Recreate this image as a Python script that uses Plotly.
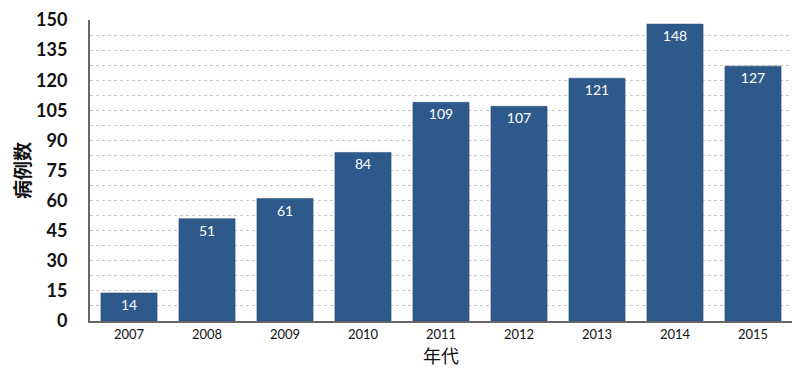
import plotly.graph_objects as go

years = ["2007", "2008", "2009", "2010", "2011", "2012", "2013", "2014", "2015"]
cases = [14, 51, 61, 84, 109, 107, 121, 148, 127]
y_ticks = [0, 15, 30, 45, 60, 75, 90, 105, 120, 135, 150]

fig = go.Figure(go.Bar(
    x=years, y=cases,
    marker=dict(color="#2E5A8B", line=dict(color="#24497A", width=0.5)),
    text=[str(v) for v in cases],
    textposition="inside", insidetextanchor="end",
    textfont=dict(color="white", size=14, family="Lato"),
    textangle=0,
    cliponaxis=False,
))

fig.update_layout(
    width=800, height=381,
    margin=dict(l=90, r=8, t=18, b=60),
    paper_bgcolor="white", plot_bgcolor="white",
    bargap=0.28,
    showlegend=False,
    font=dict(family="Lato, Noto Sans CJK SC", color="#111"),
)
fig.update_xaxes(
    type="category",
    showline=True, linecolor="#666", linewidth=2,
    ticks="", tickfont=dict(size=13, family="Lato", color="#111"),
    title=dict(text="年代", font=dict(size=18, family="Noto Sans CJK SC", color="#111"), standoff=9),
)
fig.update_yaxes(
    range=[0, 150], tickmode="array", tickvals=y_ticks,
    showline=True, linecolor="#666", linewidth=2,
    showgrid=True, gridcolor="#C8C8C8", griddash="dot", gridwidth=1,
    minor=dict(dtick=7.5, showgrid=True, gridcolor="#C8C8C8", griddash="dot", gridwidth=1),
    zeroline=False,
    ticks="", ticklabelstandoff=17,
    tickfont=dict(size=18, family="Lato", color="#111", weight="bold"),
    title=dict(text="病例数", font=dict(size=19, family="Noto Sans CJK SC", color="#111", weight="bold"), standoff=0),
)

fig.write_html("out.html", config={"displayModeBar": False},
               post_script="document.body.style.margin='0';")
